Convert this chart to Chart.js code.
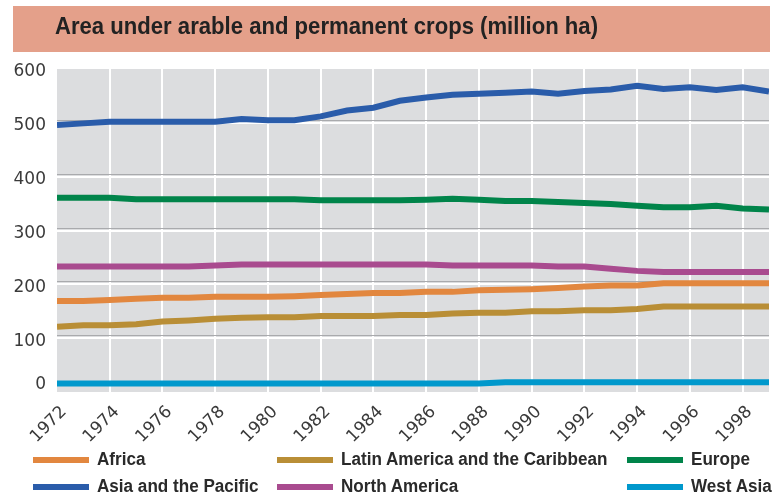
<!DOCTYPE html>
<html>
<head>
<meta charset="utf-8">
<script src="https://cdn.jsdelivr.net/npm/chart.js@4"></script>
<style>
  html, body { margin: 0; padding: 0; background: #fff; }
  #wrap { position: relative; width: 781px; height: 496px; overflow: hidden; }
  #titleBar {
    position: absolute; left: 13px; top: 6px; width: 757px; height: 46px;
    background: #e4a08a;
  }
  #titleText {
    position: absolute; left: 55px; top: 12px; height: 41px; line-height: 41px;
    font: bold 24px "Liberation Sans", Arial, sans-serif; color: #222;
    white-space: nowrap; transform-origin: 0 50%;
  }
  #myChart { position: absolute; left: 0; top: 0; }
  .swatch { position: absolute; width: 56px; height: 6px; }
  .legend-text {
    position: absolute; height: 20px; line-height: 20px;
    font: bold 18px "Liberation Sans", Arial, sans-serif; color: #2a2a2a;
    white-space: nowrap; transform-origin: 0 50%;
  }
</style>
</head>
<body>
<div id="wrap">
  <canvas id="myChart" width="781" height="496"></canvas>
  <div id="titleBar"></div>
  <div id="titleText">Area under arable and permanent crops (million ha)</div>
  <div id="legend"></div>
</div>
<script>
const years = [1972, 1973, 1974, 1975, 1976, 1977, 1978, 1979, 1980, 1981,
               1982, 1983, 1984, 1985, 1986, 1987, 1988, 1989, 1990, 1991,
               1992, 1993, 1994, 1995, 1996, 1997, 1998, 1999];

const africa = [169, 169, 171, 173, 175, 175, 177, 177, 177, 178,
                180, 182, 184, 184, 186, 186, 189, 190, 191, 193,
                196, 198, 198, 202, 202, 202, 202, 202];
const latinAmerica = [121, 124, 124, 126, 131, 133, 136, 138, 139, 139,
                      141, 141, 141, 143, 143, 146, 147, 147, 150, 150,
                      152, 152, 154, 159, 159, 159, 159, 159];
const europe = [361, 361, 361, 358, 358, 358, 358, 358, 358, 358,
                356, 356, 356, 356, 357, 359, 357, 355, 355, 353,
                351, 349, 346, 343, 343, 346, 341, 339];
const asiaPacific = [496, 499, 502, 502, 502, 502, 502, 507, 505, 505,
                     512, 523, 528, 541, 547, 552, 554, 556, 558, 554,
                     559, 562, 569, 563, 566, 561, 566, 558];
const northAmerica = [233, 233, 233, 233, 233, 233, 235, 237, 237, 237,
                      237, 237, 237, 237, 237, 235, 235, 235, 235, 233,
                      233, 229, 225, 223, 223, 223, 223, 223];
const westAsia = [16, 16, 16, 16, 16, 16, 16, 16, 16, 16,
                  16, 16, 16, 16, 16, 16, 16, 18, 18, 18,
                  18, 18, 18, 18, 18, 18, 18, 18];

const yTicks = [0, 100, 200, 300, 400, 500, 600];
const xTicks = [1972, 1974, 1976, 1978, 1980, 1982, 1984, 1986, 1988, 1990, 1992, 1994, 1996, 1998];

const series = [
    { label: 'Africa', data: africa, color: '#e2873f' },
    { label: 'Latin America and the Caribbean', data: latinAmerica, color: '#b98e36' },
    { label: 'Europe', data: europe, color: '#00844a' },
    { label: 'Asia and the Pacific', data: asiaPacific, color: '#2a5caa' },
    { label: 'North America', data: northAmerica, color: '#a94b8f' },
    { label: 'West Asia', data: westAsia, color: '#0098cc' }
];

const tickFont = { family: '"DejaVu Sans", sans-serif', size: 17 };
const tickColor = '#3a3a3a';

// grey plot background plus the thin dark rule sitting above each white grid line
const plotDecor = {
    id: 'plotDecor',
    beforeDraw(chart) {
        const { ctx, chartArea: a } = chart;
        ctx.save();
        ctx.fillStyle = '#dcdddf';
        ctx.fillRect(a.left, a.top, a.right - a.left, a.bottom - a.top);
        ctx.restore();
    },
    beforeDatasetsDraw(chart) {
        const { ctx, chartArea: a, scales } = chart;
        ctx.save();
        ctx.strokeStyle = '#a9aaad';
        ctx.lineWidth = 1;
        yTicks.forEach(v => {
            if (v === 0 || v === 600) return;
            const y = Math.round(scales.y.getPixelForValue(v)) - 2.5;
            ctx.beginPath();
            ctx.moveTo(a.left, y);
            ctx.lineTo(a.right, y);
            ctx.stroke();
        });
        ctx.restore();
    },
    afterDraw(chart) {
        // the zero label sits a little higher than the axis floor
        const { ctx, chartArea: a, scales } = chart;
        ctx.save();
        ctx.font = '17px "DejaVu Sans", sans-serif';
        ctx.fillStyle = tickColor;
        ctx.textAlign = 'right';
        ctx.textBaseline = 'middle';
        ctx.fillText('0', a.left - 11, scales.y.getPixelForValue(0) - 7);
        ctx.restore();
    }
};

const canvas = document.getElementById('myChart');
new Chart(canvas.getContext('2d'), {
    type: 'line',
    data: {
        labels: years,
        datasets: series.map(s => ({
            label: s.label,
            data: years.map((yr, i) => ({ x: yr, y: s.data[i] })),
            borderColor: s.color,
            backgroundColor: s.color,
            borderWidth: 6,
            pointRadius: 0,
            tension: 0,
            fill: false
        }))
    },
    options: {
        responsive: false,
        animation: false,
        layout: { padding: { top: 69, right: 12, left: 0, bottom: 0 } },
        scales: {
            x: {
                type: 'linear',
                min: 1972,
                max: 1999,
                afterBuildTicks: scale => { scale.ticks = xTicks.map(v => ({ value: v })); },
                afterFit: scale => { scale.height = 104; scale.paddingLeft = 0; scale.paddingRight = 0; },
                grid: {
                    color: c => (c.tick && c.tick.value === 1972 ? 'rgba(0,0,0,0)' : '#ffffff'),
                    lineWidth: 2,
                    drawTicks: false
                },
                border: { display: false },
                ticks: {
                    font: tickFont,
                    color: tickColor,
                    minRotation: 45,
                    maxRotation: 45,
                    padding: 10,
                    labelOffset: 7,
                    autoSkip: false,
                    callback: v => String(v)
                }
            },
            y: {
                min: 0,
                max: 600,
                afterBuildTicks: scale => { scale.ticks = yTicks.map(v => ({ value: v })); },
                afterFit: scale => { scale.width = 57; },
                grid: {
                    color: c => (c.tick && (c.tick.value === 0 || c.tick.value === 600) ? 'rgba(0,0,0,0)' : '#ffffff'),
                    lineWidth: 2,
                    drawTicks: false
                },
                border: { display: false },
                ticks: {
                    font: tickFont,
                    color: tickColor,
                    padding: 11,
                    labelOffset: 3,
                    callback: v => (v === 0 ? '' : String(v))
                }
            }
        },
        plugins: {
            legend: { display: false },
            tooltip: { enabled: false }
        }
    },
    plugins: [plotDecor]
});

// condensed look: squeeze regular bold text horizontally to the wanted width
const measure = document.createElement('canvas').getContext('2d');
function textWidth(text, font) {
    measure.font = font;
    return measure.measureText(text).width;
}

const titleEl = document.getElementById('titleText');
const titleScale = 543 / textWidth(titleEl.textContent, 'bold 24px "Liberation Sans", Arial, sans-serif');
titleEl.style.transform = 'scaleX(' + titleScale + ')';

// legend laid out in three columns, two rows
const legendFont = 'bold 18px "Liberation Sans", Arial, sans-serif';
const legendScale = 267 / textWidth('Latin America and the Caribbean', legendFont);
const legendCols = [33, 277, 627];
const legendRows = [460, 487];
const legend = document.getElementById('legend');
series.forEach((s, i) => {
    const left = legendCols[i % 3];
    const mid = legendRows[Math.floor(i / 3)];
    const sw = document.createElement('div');
    sw.className = 'swatch';
    sw.style.left = left + 'px';
    sw.style.top = (mid - 3) + 'px';
    sw.style.background = s.color;
    legend.appendChild(sw);
    const txt = document.createElement('div');
    txt.className = 'legend-text';
    txt.style.left = (left + 64) + 'px';
    txt.style.top = (mid - 11) + 'px';
    txt.style.transform = 'scaleX(' + legendScale + ')';
    txt.textContent = s.label;
    legend.appendChild(txt);
});
</script>
</body>
</html>
